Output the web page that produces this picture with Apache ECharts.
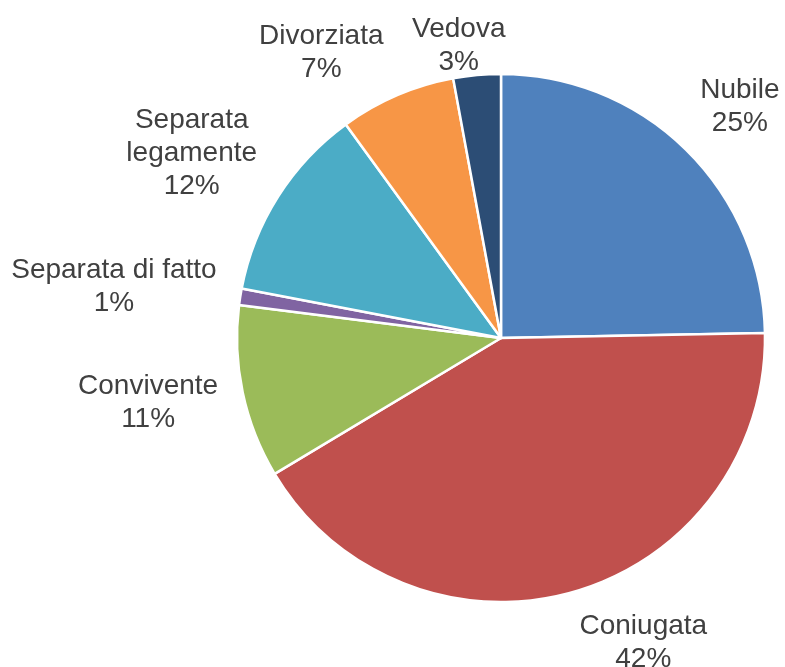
<!DOCTYPE html>
<html>
<head>
<meta charset="utf-8">
<script src="https://cdn.jsdelivr.net/npm/echarts@6/dist/echarts.min.js"></script>
<style>
  html, body { margin: 0; padding: 0; background: #fff; }
  #chart { width: 785px; height: 667px; }
</style>
</head>
<body>
<div id="chart"></div>
<script>
// stato civile, quote (in senso orario dall'alto)
const categories = ['Nubile', 'Coniugata', 'Convivente', 'Separata di fatto', 'Separata\nlegamente', 'Divorziata', 'Vedova'];
const shares = [24.7, 41.7, 10.6, 1.0, 12.0, 7.1, 2.9];
const percentLabels = ['25%', '42%', '11%', '1%', '12%', '7%', '3%'];
const colors = ['#4F81BD', '#C0504D', '#9BBB59', '#8064A2', '#4BACC6', '#F79646', '#2C4D75'];

// small label nudges (like Excel moving labels away from each other / the edge)
const labelAngleShift = [1.5, -9, 1.5, -1.5, -1.5, -9, -3];
const labelRadialShift = [0, 0, 0, 0, -3, -4, -23];

const cx = 501, cy = 338, radius = 264, gap = 21, inkInset = 6;
const total = shares.reduce((a, b) => a + b, 0);

const chart = echarts.init(document.getElementById('chart'));

chart.setOption({
  animation: false,
  series: [{
    type: 'pie',
    center: [cx, cy],
    radius: radius,
    startAngle: 90,
    clockwise: true,
    avoidLabelOverlap: false,
    itemStyle: { borderColor: '#fff', borderWidth: 2.5 },
    label: {
      show: true,
      position: 'outside',
      formatter: p => p.name + '\n' + percentLabels[p.dataIndex],
      fontFamily: 'Liberation Sans',
      fontSize: 28,
      lineHeight: 33,
      color: '#404040',
      align: 'center'
    },
    labelLine: { show: false },
    labelLayout: function (params) {
      const i = params.dataIndex;
      let before = 0;
      for (let k = 0; k < i; k++) before += shares[k];
      const mid = (before + shares[i] / 2) / total * Math.PI * 2 + labelAngleShift[i] * Math.PI / 180;
      const ux = Math.sin(mid), uy = -Math.cos(mid);
      const w = params.labelRect.width / 2, h = params.labelRect.height / 2 - inkInset;
      const R = radius + gap + Math.abs(ux) * w + Math.abs(uy) * h + labelRadialShift[i];
      return { x: cx + ux * R, y: cy + uy * R, align: 'center', verticalAlign: 'middle' };
    },
    emphasis: { disabled: true },
    data: categories.map((name, i) => ({
      name: name,
      value: shares[i],
      itemStyle: { color: colors[i] }
    }))
  }]
});
</script>
</body>
</html>
